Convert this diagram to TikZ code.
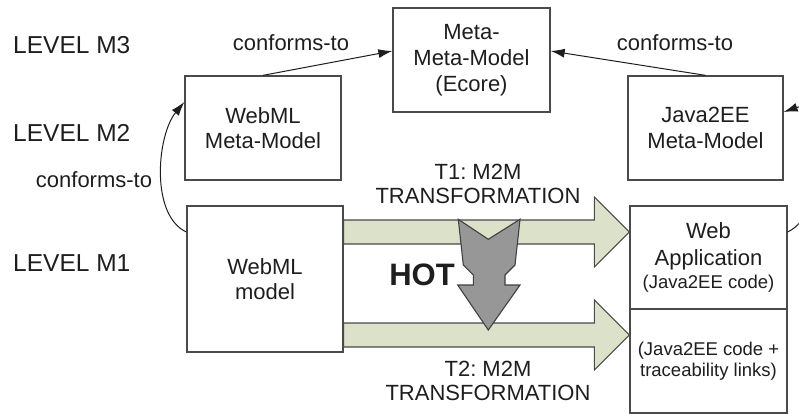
\documentclass[tikz,border=0pt]{standalone}
\usepackage{fontspec}
\setmainfont{Liberation Sans}
\usetikzlibrary{arrows.meta,calc}
\frenchspacing

\definecolor{inkc}{HTML}{1E1E1E}
\definecolor{edgec}{HTML}{4A4A4A}
\definecolor{flowfill}{HTML}{DCE1C9}
\definecolor{hotfill}{HTML}{979797}

\newcommand{\fsz}[2]{\fontsize{#1}{#2}\selectfont}

% wide block arrow from point #1 to tip #2 (horizontal)
\newcommand{\blockarrow}[2]{%
  \path[flowarrow] ($(#1)+(0,-12)$) -- ($(#2)+(-35,-12)$) -- ($(#2)+(-35,-35)$)
    -- (#2) -- ($(#2)+(-35,35)$) -- ($(#2)+(-35,12)$) -- ($(#1)+(0,12)$) -- cycle;}

\begin{document}
\begin{tikzpicture}[x=1pt,y=-1pt,
  box/.style={draw=edgec, line width=1.3pt, fill=white, inner sep=0pt,
    align=center, text=inkc, font=\fsz{22}{26}},
  lvl/.style={anchor=west, inner sep=0pt, text=inkc, font=\fsz{24.5}{28}},
  lbl/.style={inner sep=0pt, text=inkc, font=\fsz{22}{24}, align=center},
  conf/.style={draw=inkc, line width=1pt, -{Latex[length=14pt,width=9pt]}},
  flowarrow/.style={draw=edgec, line width=1.1pt, fill=flowfill, line join=miter},
  hotarrow/.style={draw=inkc!85, line width=1.1pt, fill=hotfill, line join=miter}]
\useasboundingbox (0,0) rectangle (799,414);

% level captions
\node[lvl] (m3) at (13,45) {LEVEL M3};
\node[lvl] (m2) at (13,133) {LEVEL M2};
\node[lvl] (m1) at (13,263) {LEVEL M1};

% models and metamodels
\node[box, minimum width=157pt, minimum height=104pt] (mmm) at (471.5,60)
  {Meta-\\Meta-Model\\(Ecore)};
\node[box, minimum width=156pt, minimum height=104pt, font=\fsz{22}{25}] (wmm) at (263,128)
  {WebML\\Meta-Model};
\node[box, minimum width=155pt, minimum height=104pt, font=\fsz{22}{26}] (jmm) at (705.5,128)
  {Java2EE\\Meta-Model};
\node[box, minimum width=156pt, minimum height=146pt, font=\fsz{22}{25}] (model) at (265,279)
  {WebML\\model};
\node[box, minimum width=157pt, minimum height=103pt, font=\fsz{22}{27}] (app) at (708.5,257.5)
  {Web\\Application\\[-4pt]{\fsz{18.5}{22}(Java2EE code)}};
\node[box, minimum width=157pt, minimum height=104pt, font=\fsz{18.5}{21}] (trace) at (708.5,361)
  {(Java2EE code +\\traceability links)};

% conformance relations
\draw[conf] (wmm.north) -- ([yshift=9pt]mmm.west);
\draw[conf] (jmm.north) -- ([yshift=9pt]mmm.east);
\draw[conf] ([yshift=47pt]model.west) .. controls (150,215) and (157,135) .. ([yshift=26pt]wmm.west);
\draw[conf] ([yshift=25.5pt]app.east) .. controls (830,212) and (832,95) .. ([yshift=16pt]jmm.east);

\node[lbl] (c1) at (291,43) {conforms-to};
\node[lbl] (c2) at (675,43) {conforms-to};
\node[lbl] (c3) at (94,180) {conforms-to};

% model-to-model transformations
\coordinate (t1s) at (model.east |- 0,232);
\coordinate (t1e) at (app.west |- 0,232);
\coordinate (t2s) at (model.east |- 0,335);
\coordinate (t2e) at (trace.west |- 0,335);
\blockarrow{t1s}{t1e}
\blockarrow{t2s}{t2e}

\node[lbl] (t1) at (478,184) {T1: M2M\\TRANSFORMATION};
\node[lbl] (t2) at (488,380.5) {T2: M2M\\TRANSFORMATION};

% higher-order transformation
\path[hotarrow] (458.3,219.3) -- (488.3,239.3) -- (520,219.3) -- (515,265) -- (505,275)
  -- (505,285) -- (520,285) -- (488.3,330) -- (457.7,285) -- (473.3,285) -- (473.3,275)
  -- (463.3,265) -- cycle;
\node[inner sep=0pt, text=inkc, font=\fsz{31}{34}\bfseries] (hot) at (422,275) {HOT};

\end{tikzpicture}
\end{document}
